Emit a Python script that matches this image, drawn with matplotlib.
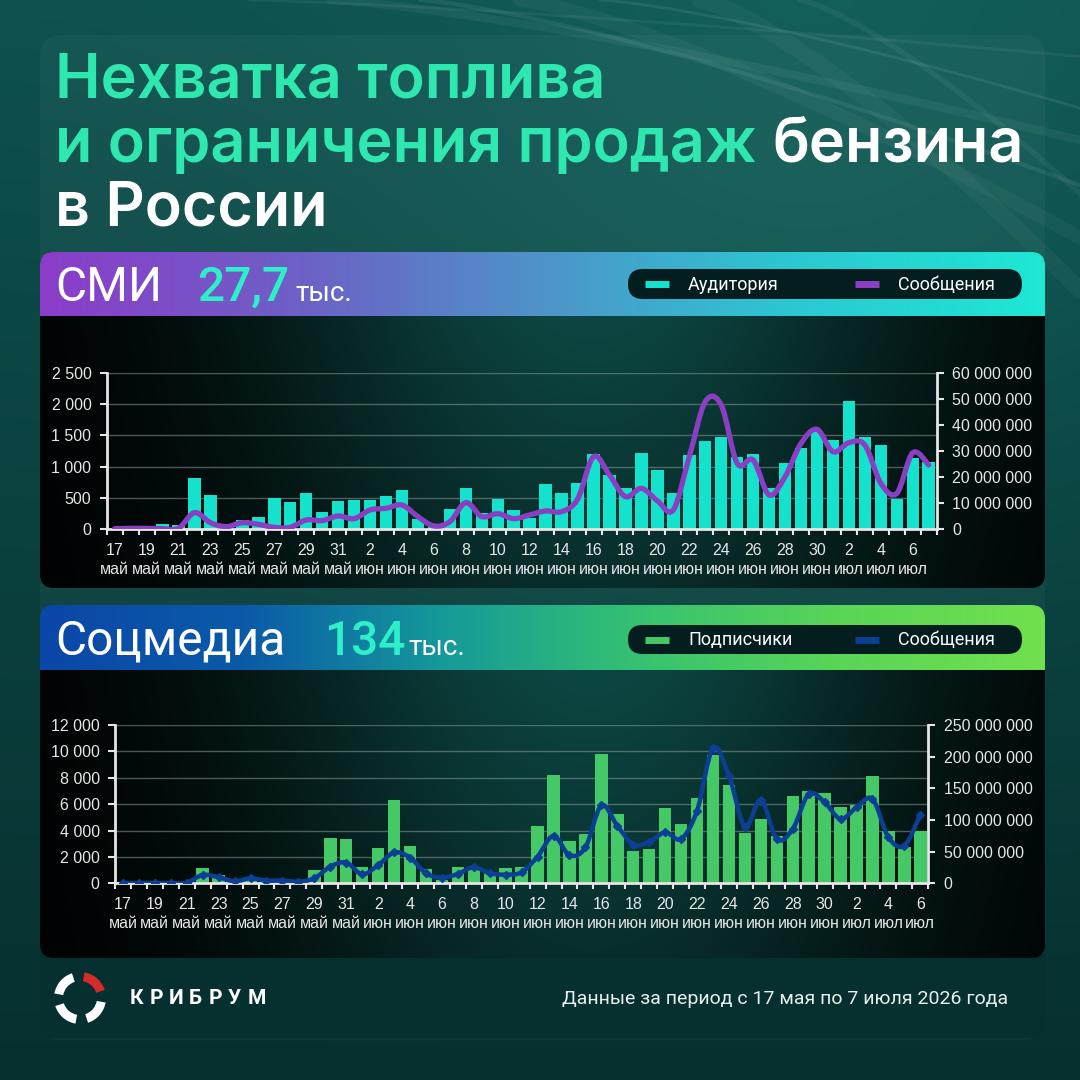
import numpy as np
import matplotlib
matplotlib.use("Agg")
import matplotlib.pyplot as plt
from matplotlib.patches import FancyBboxPatch, PathPatch, Wedge
from matplotlib.path import Path
from matplotlib.colors import LinearSegmentedColormap, to_rgb
from matplotlib.ticker import FuncFormatter

plt.rcParams['font.family'] = ['Liberation Sans', 'DejaVu Sans']

# ── Data ──────────────────────────────────────────────────────────────────────

# tick labels: day numbers and month names
may_days = list(range(17, 32))
jun_days = list(range(1, 31))
jul_days = list(range(1, 8))
day_labels = may_days + jun_days + jul_days
month_labels = ["май"] * len(may_days) + ["июн"] * len(jun_days) + ["июл"] * len(jul_days)

# СМИ: 17 May .. 7 Jul
smi_messages = [10, 15, 15, 10, 15, 266, 106, 43, 106, 80,
                32, 32, 149, 138, 213, 170, 309, 335, 388, 202,
                53, 122, 426, 202, 250, 170, 229, 293, 282, 480,
                1160, 867, 521, 654, 455, 309, 1160, 2037, 1984, 1053,
                1106, 548, 840, 1372, 1596, 1239, 1383, 1346, 734, 574,
                1223, 1027]
smi_audience_mln = [0.3, 0.5, 1.3, 1.9, 1.5, 19.5, 13.3, 0.5, 3.4, 4.6,
                    12.1, 10.6, 13.8, 6.5, 11.0, 11.4, 11.4, 12.7, 15.1, 4.0,
                    0.8, 7.7, 16.0, 6.1, 11.8, 7.4, 4.5, 17.4, 14.0, 17.6,
                    28.7, 20.8, 16.0, 29.2, 22.6, 13.8, 28.6, 34.0, 35.4, 27.6,
                    28.7, 15.7, 25.3, 31.3, 37.8, 34.1, 49.0, 35.4, 32.3, 11.7,
                    27.4, 25.7]

# Соцмедиа: 17 May .. 6 Jul
soc_messages = [20, 20, 20, 20, 50, 635, 457, 152, 380, 203,
                203, 127, 380, 1269, 1574, 685, 1370, 2335, 1954, 761,
                431, 711, 1218, 761, 660, 838, 2030, 3600, 2120, 2730,
                5900, 4360, 2940, 3140, 3864, 3359, 5505, 10253, 8157, 4293,
                6313, 3359, 4116, 6768, 6136, 4874, 5758, 6389, 3485, 2854,
                5202]
soc_subscribers_mln = [2, 0.5, 0.5, 0.5, 0.5, 24, 12.6, 5, 8, 5,
                       4, 4, 21.6, 71.6, 70.5, 25.3, 56, 131, 59, 22.6,
                       6, 25.8, 25, 15.8, 24.2, 26.3, 90.5, 171, 66.5, 78.5,
                       204.5, 109, 50.5, 53.5, 119.5, 93, 134, 203, 156, 80,
                       101, 75, 138, 146, 142, 121, 123, 169, 82, 57,
                       83]

# ── Colours / fonts ───────────────────────────────────────────────────────────

BAR_SMI = "#14e2cc"
LINE_SMI = "#8a3fc2"
BAR_SOC = "#45c866"
LINE_SOC = "#0b3f94"
TITLE_GREEN = "#2fe8b0"
ACCENT = "#2ef0c8"
TICK_COL = "#e6e6e6"
HEAD_FONT = ["Roboto", "DejaVu Sans"]
TITLE_FONT = ["Inter", "DejaVu Sans"]

W = H = 1080
fig = plt.figure(figsize=(10.8, 10.8), dpi=100)

# ── Background layer (pixel coordinates) ──────────────────────────────────────
bg = fig.add_axes([0, 0, 1, 1])
bg.set_xlim(0, W)
bg.set_ylim(H, 0)
bg.axis("off")

yy, xx = np.mgrid[0:1:120j, 0:1:120j]
top = np.array(to_rgb("#0e514e"))
bot = np.array(to_rgb("#06302f"))
base = top * (1 - yy[..., None]) + bot * yy[..., None]
glow = np.exp(-((xx - 0.75) ** 2 + (yy - 0.15) ** 2) / 0.15)[..., None]
base = np.clip(base + glow * np.array([0.02, 0.06, 0.05]), 0, 1)
bg.imshow(base, extent=(0, W, H, 0), interpolation="bicubic", zorder=0)

# soft diagonal streaks
for x0, y1, lw, a in [(330, 150, 6, 0.05), (420, 200, 3, 0.07), (520, 260, 10, 0.04),
                      (600, 120, 2, 0.08), (700, 330, 12, 0.035), (250, 60, 2, 0.06),
                      (800, 230, 4, 0.05)]:
    t = np.linspace(0, 1, 50)
    bg.plot(x0 + (W - x0 + 40) * t, y1 * t ** 1.3, color="white", lw=lw,
            alpha=a, solid_capstyle="round", zorder=1)

card = FancyBboxPatch((40, 35), 1005, 1005, boxstyle="round,pad=0,rounding_size=22",
                      facecolor="white", alpha=0.035, edgecolor="none", zorder=1)
bg.add_patch(card)

# title
def put_text(x, y, s, **kw):
    return bg.text(x, y, s, va="baseline", ha="left", zorder=5, **kw)

fig.canvas.draw()
renderer = fig.canvas.get_renderer()
TITLE_SIZE = 44
put_text(55, 98, "Нехватка топлива", color=TITLE_GREEN, fontsize=TITLE_SIZE,
         fontweight="semibold", family=TITLE_FONT)
t2 = put_text(55, 162, "и ограничения продаж ", color=TITLE_GREEN, fontsize=TITLE_SIZE,
              fontweight="semibold", family=TITLE_FONT)
bb = t2.get_window_extent(renderer)
x_after = bg.transData.inverted().transform((bb.x1, bb.y0))[0]
put_text(x_after, 162, "бензина", color="white", fontsize=TITLE_SIZE,
         fontweight="semibold", family=TITLE_FONT)
put_text(55, 226, "в России", color="white", fontsize=TITLE_SIZE,
         fontweight="semibold", family=TITLE_FONT)


def gradient_image(y0, y1, cmap, clip):
    g = np.linspace(0, 1, 256)[None, :]
    im = bg.imshow(g, extent=(40, 1045, y1, y0), cmap=cmap, aspect="auto",
                   interpolation="bicubic", zorder=3)
    im.set_clip_path(clip)


def dark_panel(y0, y1, clip):
    xs = np.linspace(0, 1, 200)
    t = np.exp(-((xs - 0.55) / 0.33) ** 2)
    ys = np.linspace(0, 1, 60)
    v = t[None, :] * (1 - 0.35 * ys[:, None])
    c = np.array(to_rgb("#0c4642"))
    img = v[..., None] * c[None, None, :]
    im = bg.imshow(img, extent=(40, 1045, y1, y0), aspect="auto",
                   interpolation="bicubic", zorder=3)
    im.set_clip_path(clip)


def block(y0, y_head, y1, cmap):
    box = FancyBboxPatch((40, y0), 1005, y1 - y0, boxstyle="round,pad=0,rounding_size=14",
                         facecolor="none", edgecolor="none", zorder=3)
    bg.add_patch(box)
    gradient_image(y0, y_head, cmap, box)
    dark_panel(y_head, y1, box)


def legend_pill(y, h, items):
    pill = FancyBboxPatch((628, y), 394, h, boxstyle=f"round,pad=0,rounding_size={h/2}",
                          facecolor="#041d1f", edgecolor="none", zorder=6)
    bg.add_patch(pill)
    yc = y + h / 2
    for (x0, label, col) in items:
        bg.plot([x0, x0 + 24], [yc, yc], color=col, lw=5, solid_capstyle="butt", zorder=7)
        bg.text(x0 + 43, yc + 1, label, color="white", fontsize=13, va="center",
                ha="left", family=HEAD_FONT, zorder=7)


def header(y_base, name, value, x_val, x_unit):
    bg.text(55, y_base, name, color="white", fontsize=34.5, va="baseline",
            family=HEAD_FONT, zorder=6)
    bg.text(x_val, y_base, value, color=ACCENT, fontsize=34.5, va="baseline",
            family=HEAD_FONT, fontweight="medium", zorder=6)
    bg.text(x_unit, y_base, "тыс.", color="white", fontsize=20, va="baseline",
            family=HEAD_FONT, zorder=6)


# footer box
footer = FancyBboxPatch((40, 930), 1005, 108, boxstyle="round,pad=0,rounding_size=14",
                        facecolor="#05302f", edgecolor="none", zorder=2)
bg.add_patch(footer)

cm_smi = LinearSegmentedColormap.from_list(
    "smi", ["#8b3dc9", "#6e5fc6", "#4e94c9", "#2bc8d2", "#1ee8d4"])
cm_soc = LinearSegmentedColormap.from_list(
    "soc", ["#0a47a8", "#0b5aa8", "#159a9a", "#36c270", "#5ad556", "#70e04e"])

block(252, 316, 588, cm_smi)
block(605, 670, 958, cm_soc)

header(301, "СМИ", "27,7", 197, 295)
header(655, "Соцмедиа", "134", 324, 408)
legend_pill(269, 30, [(645, "Аудитория", BAR_SMI), (855, "Сообщения", LINE_SMI)])
legend_pill(625, 29, [(645, "Подписчики", BAR_SOC), (855, "Сообщения", LINE_SOC)])

# logo: four blades, the red one at top right
cx, cy = 80, 998
for k in range(4):
    ang = 280 + k * 90
    col = "#d42b2b" if k == 0 else "white"
    bg.add_patch(Wedge((cx, cy), 26, ang, ang + 62, width=9, facecolor=col,
                       edgecolor="none", zorder=6))
for i, ch in enumerate("КРИБРУМ"):
    bg.text(130 + i * 19.6, 999, ch, color="white", fontsize=15, fontweight="bold",
            va="center", ha="left", family=HEAD_FONT, zorder=6)
bg.text(1008, 999, "Данные за период с 17 мая по 7 июля 2026 года", color="#e8eeee",
        fontsize=14, va="center", ha="right", family=HEAD_FONT, zorder=6)


# ── Charts ────────────────────────────────────────────────────────────────────

def fmt_space(v, _pos=None):
    return f"{v:,.0f}".replace(",", " ")


def smooth_path(x, y):
    pts = np.column_stack([x, y]).astype(float)
    ext = np.vstack([pts[0], pts, pts[-1]])
    verts = [pts[0]]
    codes = [Path.MOVETO]
    for i in range(len(pts) - 1):
        p0, p1, p2, p3 = ext[i], ext[i + 1], ext[i + 2], ext[i + 3]
        verts += [p1 + (p2 - p0) / 6, p2 - (p3 - p1) / 6, p2]
        codes += [Path.CURVE4] * 3
    return Path(verts, codes)


def draw_chart(rect, bars_mln, bar_max, bar_step, bar_color,
               msgs, line_max, line_step, line_color, lw, markers=False):
    n = len(bars_mln)
    x = np.arange(n)
    bars = np.array(bars_mln) * 1e6

    ax_b = fig.add_axes(rect)
    ax_b.patch.set_alpha(0)
    ax_b.set_xlim(-0.5, n - 0.5)
    ax_b.set_ylim(0, bar_max)
    # gridlines follow the left (messages) ticks
    for tv in np.arange(line_step, line_max + 1, line_step):
        ax_b.axhline(tv / line_max * bar_max, color="#8a9896", lw=1, alpha=0.55, zorder=1)
    ax_b.bar(x, bars, width=0.78, color=bar_color, zorder=2)

    ax_l = ax_b.twinx()
    ax_l.patch.set_alpha(0)

    # x axis lives on the host axes (twin's x axis is hidden)
    ax_b.set_xticks(np.arange(-0.5, n, 1))
    ax_b.set_xticklabels([])
    ax_b.set_xticks(x[::2], minor=True)
    ax_b.set_xticklabels([f"{d}\n{m}" for d, m in zip(day_labels[:n:2], month_labels[:n:2])],
                         minor=True)
    ax_b.tick_params(axis="x", which="major", colors=TICK_COL, length=4, width=1.5,
                     direction="out")
    ax_b.tick_params(axis="x", which="minor", colors=TICK_COL, labelcolor=TICK_COL,
                     length=0, labelsize=11.5, pad=10)
    for lab in ax_b.get_xticklabels(minor=True):
        lab.set_linespacing(1.3)

    # right axis: bars (twinx moves the host ticks, so set them afterwards)
    ax_b.yaxis.tick_right()
    ax_b.yaxis.set_label_position("right")
    ax_b.set_yticks(np.arange(0, bar_max + 1, bar_step))
    ax_b.yaxis.set_major_formatter(FuncFormatter(fmt_space))
    ax_b.tick_params(axis="y", colors=TICK_COL, labelcolor=TICK_COL, labelsize=11.5,
                     length=5, width=1.5, direction="out", pad=6,
                     left=False, labelleft=False, right=True, labelright=True)
    for s in ("top", "left"):
        ax_b.spines[s].set_visible(False)
    for s in ("right", "bottom"):
        ax_b.spines[s].set_color(TICK_COL)
        ax_b.spines[s].set_linewidth(2)

    # left axis: messages line
    ax_l.yaxis.tick_left()
    ax_l.yaxis.set_label_position("left")
    ax_l.set_ylim(0, line_max)
    ax_l.set_yticks(np.arange(0, line_max + 1, line_step))
    ax_l.yaxis.set_major_formatter(FuncFormatter(fmt_space))
    ax_l.tick_params(axis="y", colors=TICK_COL, labelcolor=TICK_COL, labelsize=11.5,
                     length=5, width=1.5, direction="out", pad=6,
                     right=False, labelright=False, left=True, labelleft=True)
    for s in ("top", "right", "bottom"):
        ax_l.spines[s].set_visible(False)
    ax_l.spines["left"].set_color(TICK_COL)
    ax_l.spines["left"].set_linewidth(2)

    ax_l.add_patch(PathPatch(smooth_path(x, msgs), fill=False, edgecolor=line_color,
                             lw=lw, capstyle="round", joinstyle="round", zorder=3))
    if markers:
        ax_l.plot(x, msgs, linestyle="none", marker="D", ms=4.5, color=line_color, zorder=4)
    return ax_b, ax_l


draw_chart([106.7 / W, (H - 529.3) / H, 830 / W, 156.6 / H],
           smi_audience_mln, 60e6, 10e6, BAR_SMI,
           smi_messages, 2500, 500, LINE_SMI, 3.8)
draw_chart([115 / W, (H - 883.3) / H, 813.3 / W, 158.3 / H],
           soc_subscribers_mln, 250e6, 50e6, BAR_SOC,
           soc_messages, 12000, 2000, LINE_SOC, 3.2, markers=True)

fig.savefig("out.png", dpi=100)
